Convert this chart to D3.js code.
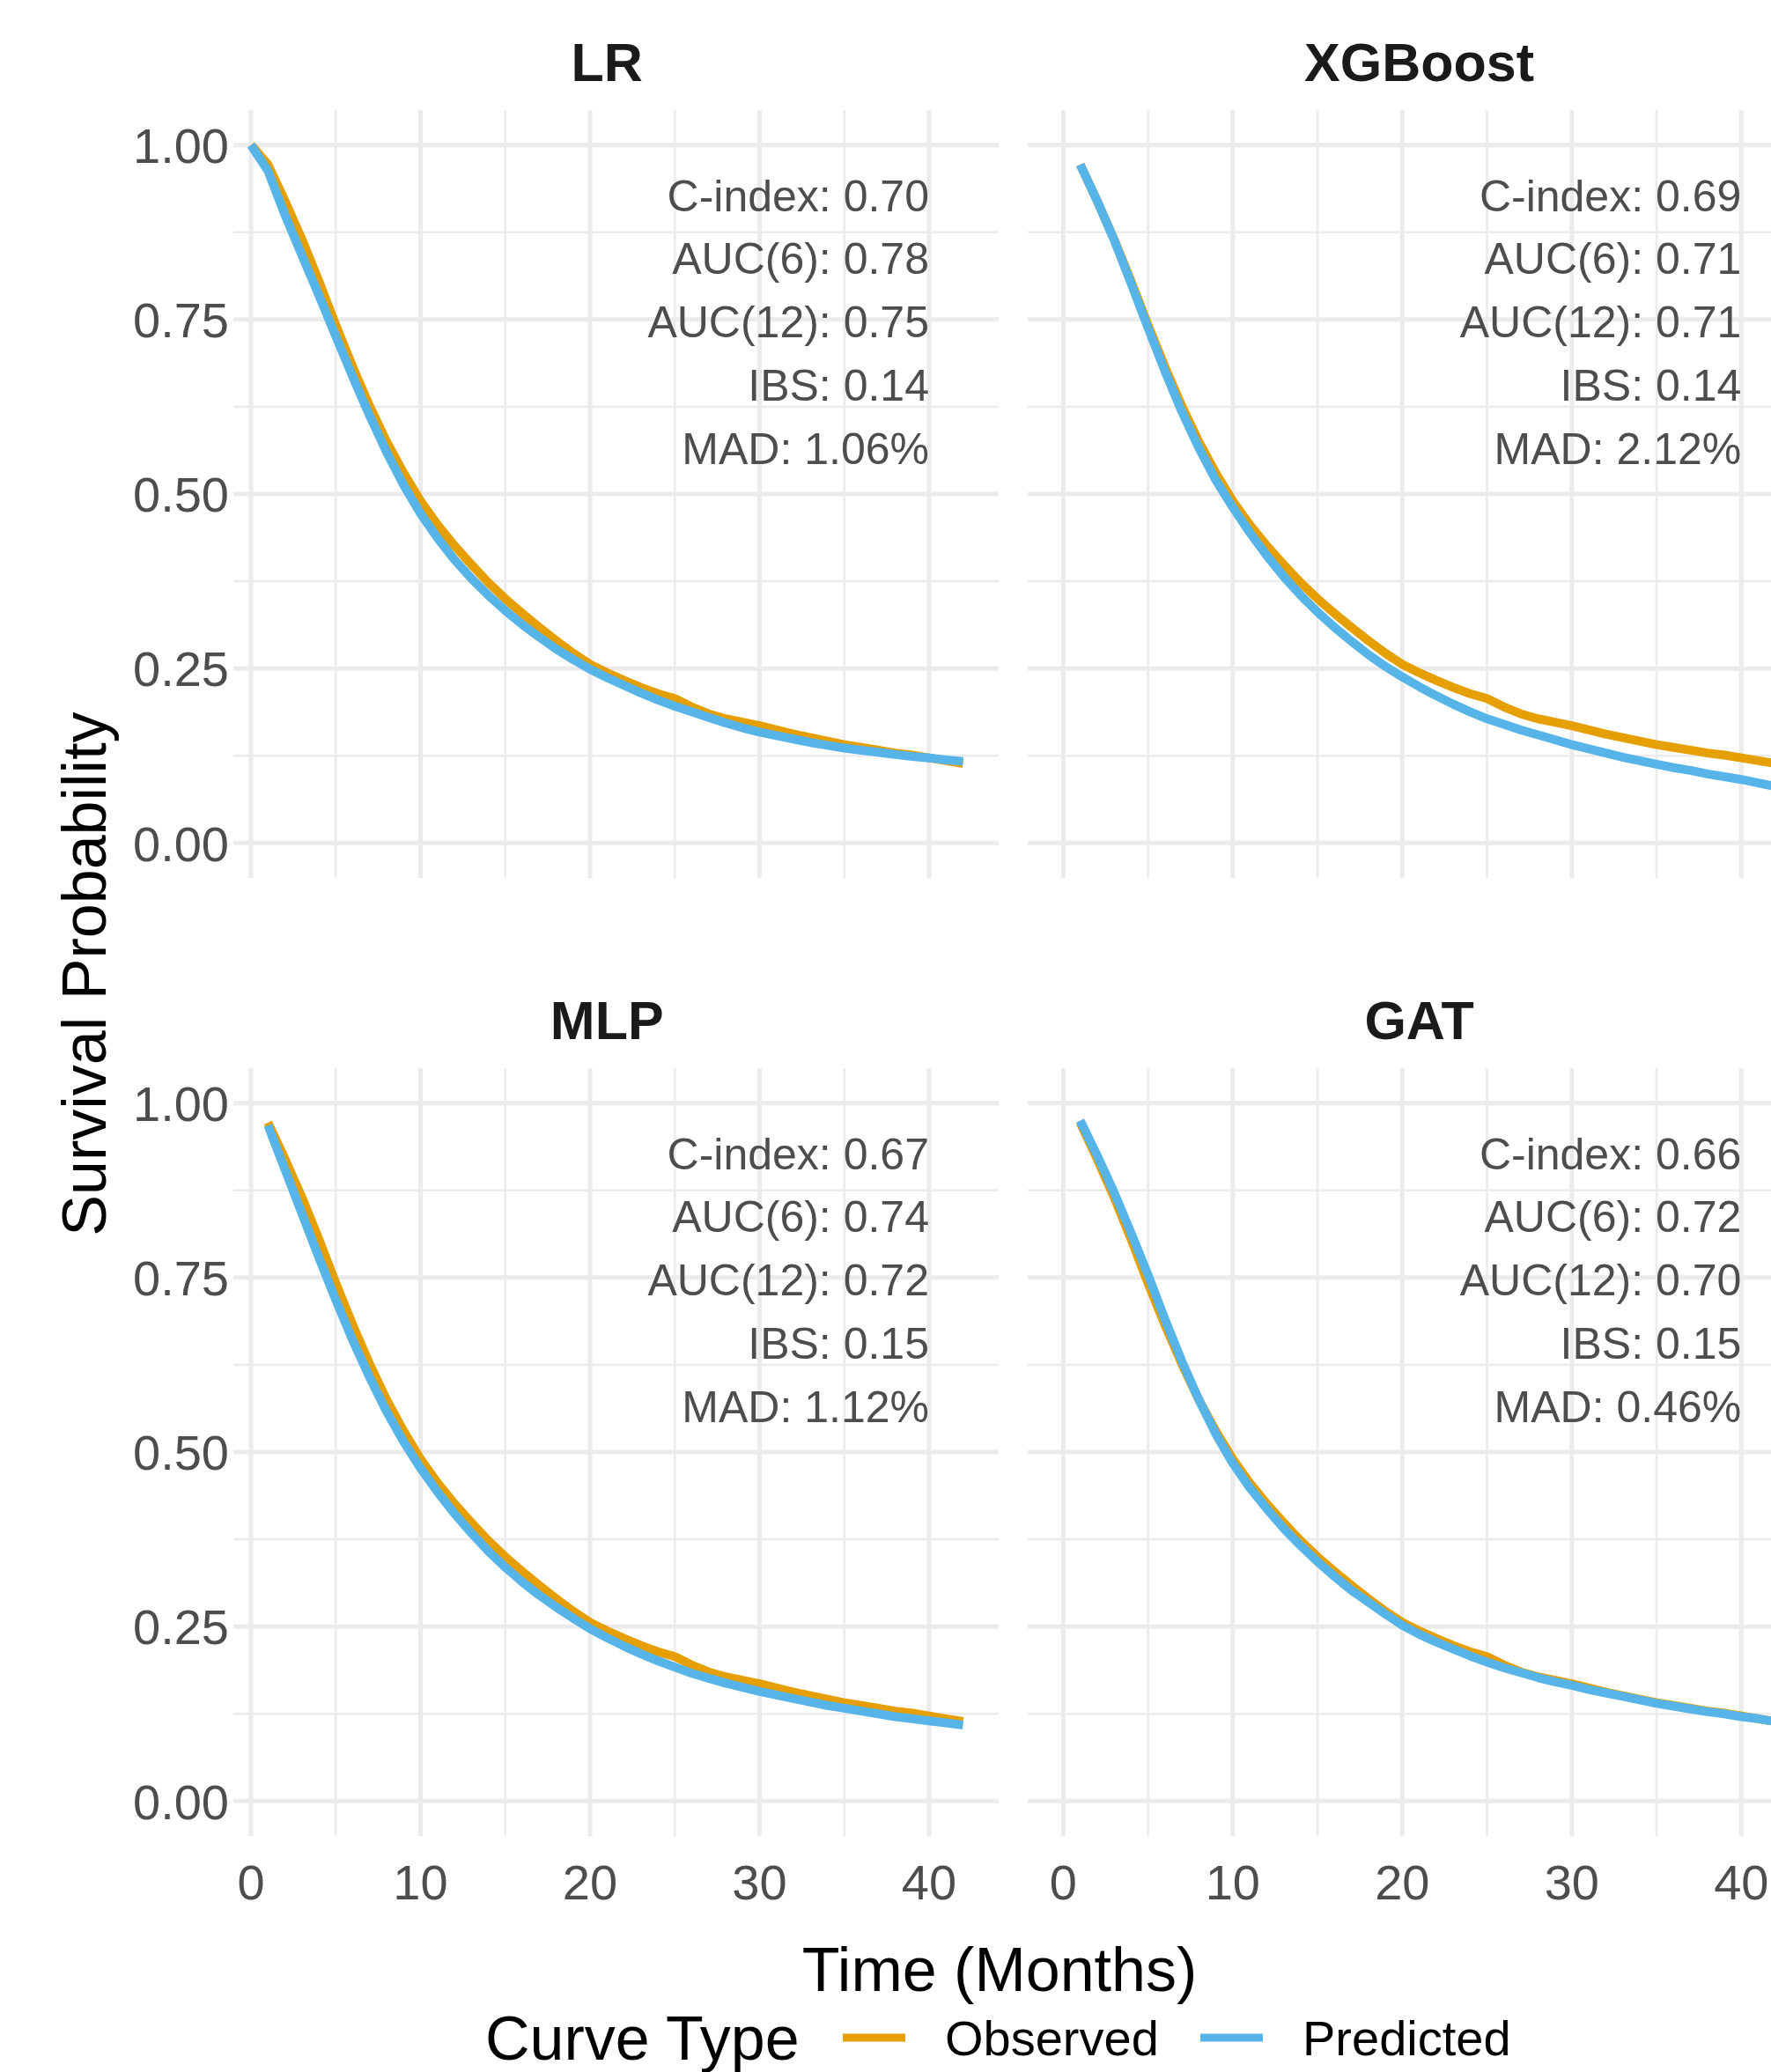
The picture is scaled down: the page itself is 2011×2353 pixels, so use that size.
<!DOCTYPE html>
<html>
<head>
<meta charset="utf-8">
<script src="https://cdn.jsdelivr.net/npm/d3@7"></script>
<style>
  body { margin: 0; background: #fff; overflow: hidden; }
  svg { display: block; }
</style>
</head>
<body>
<div class="container_main"></div>
<script>
// ---- data ----
const models = ["LR", "XGBoost", "MLP", "GAT"];
const months = [1,2,3,4,5,6,7,8,9,10,11,12,13,14,15,16,17,18,19,20,21,
                22,23,24,25,26,27,28,29,30,31,32,33,34,35,36,37,38,39,40,41,42];
// LR curves also have a point at month 0
const lrStart = 1.00;

const observed = [0.972,0.920,0.865,0.805,0.742,0.682,0.626,0.575,0.530,0.490,0.456,0.426,0.399,0.373,
                  0.350,0.329,0.309,0.290,0.272,0.256,0.244,0.233,0.223,0.214,0.207,0.195,0.185,0.178,
                  0.173,0.168,0.162,0.156,0.151,0.146,0.141,0.137,0.133,0.129,0.126,0.122,0.118,0.114];
const predLR  = [0.963,0.900,0.842,0.785,0.726,0.668,0.612,0.560,0.513,0.472,0.437,0.406,0.379,0.355,
                 0.333,0.313,0.295,0.278,0.263,0.249,0.237,0.226,0.215,0.205,0.196,0.188,0.180,0.172,
                 0.165,0.159,0.154,0.149,0.144,0.140,0.136,0.133,0.130,0.127,0.124,0.122,0.119,0.117];
const predXGB = [0.972,0.920,0.864,0.802,0.738,0.676,0.618,0.566,0.520,0.481,0.445,0.412,0.382,0.355,
                 0.331,0.309,0.289,0.270,0.253,0.238,0.224,0.211,0.199,0.188,0.178,0.170,0.162,0.155,
                 0.148,0.141,0.135,0.129,0.123,0.118,0.113,0.108,0.104,0.099,0.095,0.091,0.086,0.081];
const predMLP = [0.968,0.905,0.842,0.779,0.718,0.660,0.607,0.558,0.515,0.477,0.443,0.412,0.384,0.358,
                 0.335,0.314,0.295,0.278,0.262,0.247,0.234,0.222,0.211,0.201,0.192,0.183,0.176,0.169,
                 0.163,0.157,0.152,0.147,0.142,0.137,0.133,0.129,0.125,0.121,0.118,0.115,0.112,0.109];
const predGAT = [0.975,0.925,0.872,0.814,0.754,0.690,0.630,0.575,0.526,0.484,0.449,0.419,0.391,0.366,
                 0.343,0.322,0.302,0.285,0.268,0.252,0.239,0.228,0.218,0.208,0.199,0.191,0.184,0.177,
                 0.171,0.166,0.160,0.155,0.150,0.145,0.140,0.136,0.132,0.128,0.125,0.121,0.118,0.114];

const cIndex = [0.70, 0.69, 0.67, 0.66];
const auc6   = [0.78, 0.71, 0.74, 0.72];
const auc12  = [0.75, 0.71, 0.72, 0.70];
const ibs    = [0.14, 0.14, 0.15, 0.15];
const mad    = [1.06, 2.12, 1.12, 0.46];

const xTicks = [0, 10, 20, 30, 40];
const xMinor = [5, 15, 25, 35];
const yTicks = [0, 0.25, 0.5, 0.75, 1];
const yMinor = [0.125, 0.375, 0.625, 0.875];

const seriesNames  = ["Observed", "Predicted"];
const seriesColors = ["#E69F00", "#56B4E9"];

// ---- layout ----
const W = 2011, H = 2353;
const font = "'Liberation Sans', Arial, sans-serif";
const colLeft  = [244.6, 1166.9];   // panel left edges
const panelW   = 889.3;
const rowTop   = [125, 1213];
const panelH   = 872;
const gridStartLeftCol = 265;        // grid hidden behind y labels in first column

const svg = d3.select(".container_main")
  .append("svg")
  .attr("width", W)
  .attr("height", H)
  .style("font-family", font);

const predictions = [predLR, predXGB, predMLP, predGAT];

models.forEach(function(name, i) {
  const col = i % 2, row = Math.floor(i / 2);
  const x = d3.scaleLinear().domain([-2.1, 44.1]).range([colLeft[col], colLeft[col] + panelW]);
  const y = d3.scaleLinear().domain([-0.05, 1.05]).range([rowTop[row] + panelH, rowTop[row]]);
  const g = svg.append("g");
  const gx0 = col === 0 ? gridStartLeftCol : colLeft[col];

  // grid
  g.selectAll(".hminor").data(yMinor).enter().append("line")
    .attr("x1", gx0).attr("x2", colLeft[col] + panelW)
    .attr("y1", d => y(d)).attr("y2", d => y(d))
    .attr("stroke", "#ebebeb").attr("stroke-width", 2.6);
  g.selectAll(".vminor").data(xMinor).enter().append("line")
    .attr("x1", d => x(d)).attr("x2", d => x(d))
    .attr("y1", rowTop[row]).attr("y2", rowTop[row] + panelH)
    .attr("stroke", "#ebebeb").attr("stroke-width", 2.6);
  g.selectAll(".hmajor").data(yTicks).enter().append("line")
    .attr("x1", gx0).attr("x2", colLeft[col] + panelW)
    .attr("y1", d => y(d)).attr("y2", d => y(d))
    .attr("stroke", "#ebebeb").attr("stroke-width", 5);
  g.selectAll(".vmajor").data(xTicks).enter().append("line")
    .attr("x1", d => x(d)).attr("x2", d => x(d))
    .attr("y1", rowTop[row]).attr("y2", rowTop[row] + panelH)
    .attr("stroke", "#ebebeb").attr("stroke-width", 5);

  // curves
  let t = months, obs = observed, pred = predictions[i];
  if (i === 0) {
    t = [0].concat(months);
    obs = [lrStart].concat(observed);
    pred = [lrStart].concat(predLR);
  }
  const line = d3.line().x(d => x(d[0])).y(d => y(d[1]));
  [obs, pred].forEach(function(vals, k) {
    g.append("path")
      .datum(t.map((m, j) => [m, vals[j]]))
      .attr("d", line)
      .attr("fill", "none")
      .attr("stroke", seriesColors[k])
      .attr("stroke-width", 10)
      .attr("stroke-linejoin", "round");
  });

  // strip title
  g.append("text")
    .attr("x", colLeft[col] + panelW / 2)
    .attr("y", rowTop[row] - 33)
    .attr("text-anchor", "middle")
    .attr("font-weight", "bold")
    .attr("font-size", 61)
    .attr("fill", "#1a1a1a")
    .text(name);

  // metrics
  const lines = [
    "C-index: " + cIndex[i].toFixed(2),
    "AUC(6): " + auc6[i].toFixed(2),
    "AUC(12): " + auc12[i].toFixed(2),
    "IBS: " + ibs[i].toFixed(2),
    "MAD: " + mad[i].toFixed(2) + "%"
  ];
  g.selectAll(".metric").data(lines).enter().append("text")
    .attr("x", x(40))
    .attr("y", (d, j) => y(0.928) + j * 71.7)
    .attr("dy", "0.36em")
    .attr("text-anchor", "end")
    .attr("font-size", 50)
    .attr("fill", "#4d4d4d")
    .text(d => d);

  // y axis labels
  if (col === 0) {
    g.selectAll(".ylab").data(yTicks).enter().append("text")
      .attr("x", 260)
      .attr("y", d => y(d))
      .attr("dy", "0.36em")
      .attr("text-anchor", "end")
      .attr("font-size", 56)
      .attr("fill", "#4d4d4d")
      .text(d => d3.format(".2f")(d));
  }
  // x axis labels
  if (row === 1) {
    g.selectAll(".xlab").data(xTicks).enter().append("text")
      .attr("x", d => x(d))
      .attr("y", 2137)
      .attr("dy", "0.36em")
      .attr("text-anchor", "middle")
      .attr("font-size", 56)
      .attr("fill", "#4d4d4d")
      .text(d => d);
  }
});

// axis titles
svg.append("text")
  .attr("x", 1135).attr("y", 2236).attr("dy", "0.36em")
  .attr("text-anchor", "middle")
  .attr("font-size", 70)
  .attr("fill", "#000")
  .text("Time (Months)");

svg.append("text")
  .attr("transform", "translate(120,1106) rotate(-90)")
  .attr("text-anchor", "middle")
  .attr("font-size", 70)
  .attr("fill", "#000")
  .text("Survival Probability");

// legend
const legY = 2314;
svg.append("text")
  .attr("x", 551).attr("y", legY).attr("dy", "0.36em")
  .attr("font-size", 70).attr("fill", "#000")
  .text("Curve Type");
const keyX = [957, 1363];
seriesNames.forEach(function(s, k) {
  svg.append("line")
    .attr("x1", keyX[k]).attr("x2", keyX[k] + 71)
    .attr("y1", legY).attr("y2", legY)
    .attr("stroke", seriesColors[k]).attr("stroke-width", 9);
  svg.append("text")
    .attr("x", keyX[k] + 116).attr("y", legY).attr("dy", "0.36em")
    .attr("font-size", 56).attr("fill", "#000")
    .text(s);
});
</script>
</body>
</html>
